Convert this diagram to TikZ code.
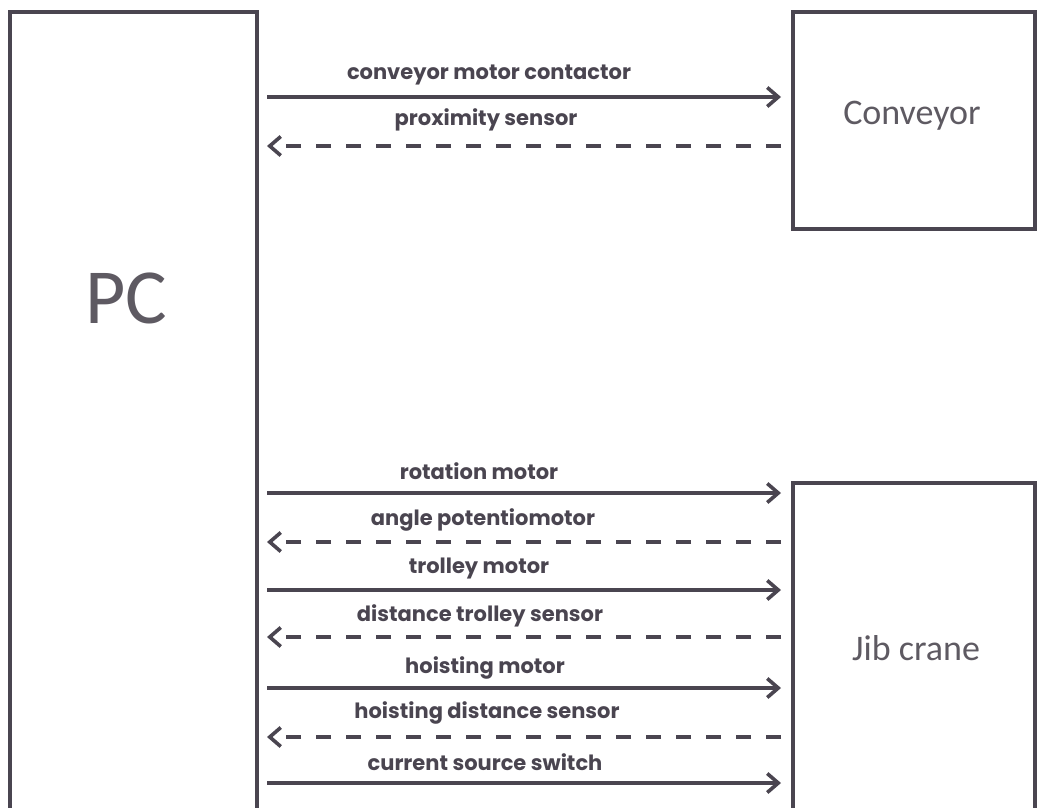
\documentclass[tikz,border=0pt]{standalone}
\usepackage{fontspec}
\setmainfont{Carlito}
\newfontfamily\labfont{Poppins}
\usetikzlibrary{arrows.meta}
\definecolor{ink}{HTML}{4A4550}
\definecolor{boxtext}{HTML}{5E5A62}
\tikzset{
  box/.style={draw=ink, line width=3.2pt, fill=none},
  sig/.style={draw=ink, line width=3.4pt, -{Straight Barb[length=11pt,width=19pt,line width=3.6pt]}},
  fb/.style={sig, dash pattern=on 15pt off 15pt},
  lab/.style={font=\labfont\fontsize{21}{23}\selectfont\bfseries, text=ink, inner sep=0pt},
  big/.style={text=boxtext, inner sep=0pt}
}
\begin{document}
\begin{tikzpicture}[x=1pt,y=-1pt]
\useasboundingbox (0,0) rectangle (1037,807);
\clip (0,0) rectangle (1037,807);
% boxes
\draw[box] (10,12) rectangle (257,830);
\draw[box] (793,12) rectangle (1035,229);
\draw[box] (793,483) rectangle (1035,830);
\node[big, font=\fontsize{78}{80}\selectfont] (PC) at (126,298) {PC};
\node[big, font=\fontsize{36}{38}\selectfont] (conv) at (912,116) {Conveyor};
\node[big, font=\fontsize{36}{38}\selectfont] (jib) at (916,648) {Jib crane};
% anchor coordinates
\foreach \n/\y in {a/97,b/146,c/493,d/542,e/590,f/637,g/688,h/737,i/783}{
  \coordinate (L\n) at (267,\y);
  \coordinate (R\n) at (781,\y);
}
\draw[sig] (La) -- (Ra);
\draw[fb]  (Rb) -- (Lb);
\draw[sig] (Lc) -- (Rc);
\draw[fb]  (Rd) -- (Ld);
\draw[sig] (Le) -- (Re);
\draw[fb]  (Rf) -- (Lf);
\draw[sig] (Lg) -- (Rg);
\draw[fb]  (Rh) -- (Lh);
\draw[sig] (Li) -- (Ri);
% labels
\node[lab] (ta) at (489,75) {conveyor motor contactor};
\node[lab] (tb) at (486,120) {proximity sensor};
\node[lab] (tc) at (479,471) {rotation motor};
\node[lab] (td) at (483,520) {angle potentiomotor};
\node[lab] (te) at (479,569) {trolley motor};
\node[lab] (tf) at (480,616) {distance trolley sensor};
\node[lab] (tg) at (485,668) {hoisting motor};
\node[lab] (th) at (487,713) {hoisting distance sensor};
\node[lab] (ti) at (485,762) {current source switch};
\end{tikzpicture}
\end{document}
